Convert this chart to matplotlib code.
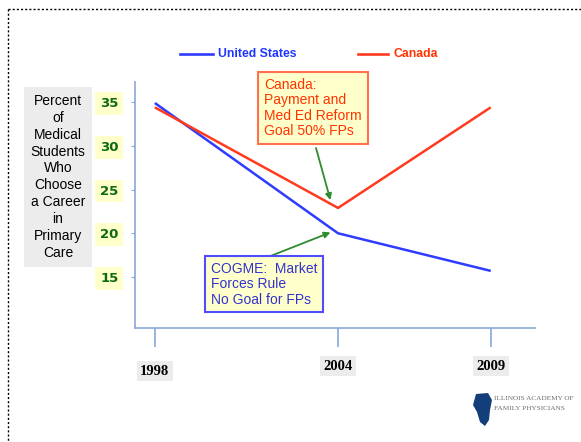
import matplotlib
matplotlib.use("Agg")
import matplotlib.pyplot as plt
from matplotlib.lines import Line2D
from matplotlib.patches import Polygon
import matplotlib.transforms as mtrans

years = [1998, 2004, 2009]
us = [34.9, 20.0, 15.7]
canada = [34.4, 22.9, 34.4]
yticks = [15, 20, 25, 30, 35]
ylabel_lines = ["Percent", "of", "Medical", "Students", "Who", "Choose",
                "a Career", "in", "Primary", "Care"]

W, H = 581, 442
fig = plt.figure(figsize=(W / 100, H / 100), dpi=100)
fig.patch.set_facecolor("white")

def fx(px):
    return px / W

def fy(py):
    return 1 - py / H

ax = fig.add_axes([fx(135), fy(328), fx(535) - fx(135), fy(82) - fy(328)])
ax.set_xlim(1997.35, 2010.45)
ax.set_ylim(9.17, 37.3)

blue = "#2f3cff"
red = "#ff3a1f"
ax.plot(years, us, color=blue, lw=1.8, solid_capstyle="butt")
ax.plot(years, canada, color=red, lw=1.8, solid_capstyle="butt")

for s in ["top", "right"]:
    ax.spines[s].set_visible(False)
for s in ["left", "bottom"]:
    ax.spines[s].set_color("#8ba7d8")
    ax.spines[s].set_linewidth(1.2)

ax.set_yticks(yticks)
ax.set_yticklabels([str(v) for v in yticks], fontweight="bold", fontsize=9.5,
                   color="#0d6b0d", family="DejaVu Sans")
ax.tick_params(axis="y", length=3, color="#8ba7d8", pad=9)
for lab in ax.get_yticklabels():
    lab.set_bbox(dict(facecolor="#ffffcc", edgecolor="none", pad=3.5))

ax.set_xticks(years)
ax.set_xticklabels([str(y) for y in years], fontweight="bold", fontsize=10.5,
                   family="Liberation Serif", color="black")
ax.tick_params(axis="x", length=14, color="#8ba7d8", width=1.2, pad=9)
for lab in ax.get_xticklabels():
    lab.set_bbox(dict(facecolor="#ececec", edgecolor="none", pad=2.5))
first = ax.get_xticklabels()[0]
first.set_transform(first.get_transform() +
                    mtrans.ScaledTranslation(0, -5 / 100, fig.dpi_scale_trans))

# y-axis description
fig.text(fx(58), fy(94), "\n".join(ylabel_lines), ha="center", va="top",
         fontsize=10, family="Liberation Sans", linespacing=1.26,
         bbox=dict(facecolor="#ececec", edgecolor="none", pad=5))

# legend
fig.add_artist(Line2D([fx(180), fx(213)], [fy(54), fy(54)], color=blue, lw=1.9))
fig.text(fx(218), fy(54), "United States", color="#1f35ff", fontsize=8.8,
         fontweight="bold", family="Liberation Sans",
         va="center", ha="left")
fig.add_artist(Line2D([fx(358), fx(388)], [fy(54), fy(54)], color=red, lw=1.9))
fig.text(fx(393), fy(54), "Canada", color="#ff3300", fontsize=8.8,
         fontweight="bold", family="Liberation Sans",
         va="center", ha="left")

# annotation boxes
fig.text(fx(264), fy(78), "Canada:\nPayment and\nMed Ed Reform\nGoal 50% FPs",
         color="#ff3300", fontsize=10, family="Liberation Sans", va="top",
         ha="left", linespacing=1.12,
         bbox=dict(facecolor="#ffffcc", edgecolor="#ff7050", lw=1.5,
                   boxstyle="square,pad=0.45"))
fig.text(fx(211), fy(262), "COGME:  Market\nForces Rule\nNo Goal for FPs",
         color="#3333cc", fontsize=10, family="Liberation Sans", va="top",
         ha="left", linespacing=1.12,
         bbox=dict(facecolor="#ffffcc", edgecolor="#4d4dff", lw=1.5,
                   boxstyle="square,pad=0.4"))

green = "#2e8b2e"
ax.annotate("", xy=(2003.75, canada[1] + 0.9), xycoords="data",
            xytext=(fx(316), fy(148)), textcoords="figure fraction",
            arrowprops=dict(arrowstyle="-|>", color=green, lw=1.3,
                            mutation_scale=9, shrinkA=0, shrinkB=0))
ax.annotate("", xy=(2003.75, us[1] + 0.1), xycoords="data",
            xytext=(fx(268), fy(257)), textcoords="figure fraction",
            arrowprops=dict(arrowstyle="-|>", color=green, lw=1.3,
                            mutation_scale=9, shrinkA=0, shrinkB=0))

# dotted frame (left and top edges only visible)
fig.add_artist(Line2D([fx(8), fx(8)], [fy(9), 0], color="black", lw=1,
                      linestyle=(0, (1.5, 1.5))))
fig.add_artist(Line2D([fx(8), 1], [fy(9), fy(9)], color="black", lw=1,
                      linestyle=(0, (1.5, 1.5))))

# logo
shape = [(476, 394), (488, 393), (492, 400), (490, 410), (489, 420),
         (485, 426), (480, 422), (477, 412), (473, 405)]
fig.add_artist(Polygon([(fx(x), fy(y)) for x, y in shape], closed=True,
                       facecolor="#123f7a", edgecolor="none"))
fig.text(fx(494), fy(398), "ILLINOIS ACADEMY OF", fontsize=5.2,
         color="#6d6d6d", family="Liberation Serif", va="center")
fig.text(fx(494), fy(409), "FAMILY PHYSICIANS", fontsize=5.2,
         color="#6d6d6d", family="Liberation Serif", va="center")

fig.savefig("out.png", dpi=100)
